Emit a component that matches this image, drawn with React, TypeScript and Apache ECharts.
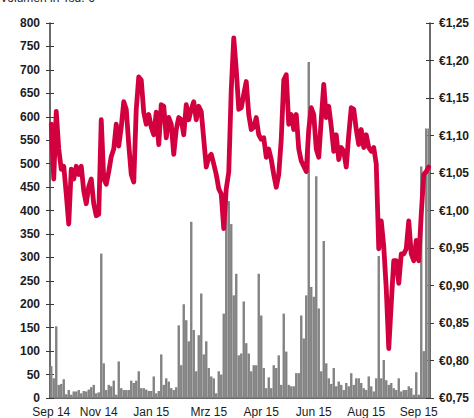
import React, { useEffect, useRef } from "react";
import * as echarts from "echarts";

const volume: number[] = [
  68, 42, 153, 28, 30, 40, 8, 17, 7, 14,
  14, 17, 10, 15, 14, 18, 23, 28, 10, 12,
  308, 74, 17, 28, 25, 37, 7, 78, 21, 17,
  17, 17, 37, 32, 37, 57, 21, 21, 18, 15,
  15, 46, 10, 15, 93, 28, 42, 35, 21, 17,
  23, 155, 70, 200, 166, 121, 376, 145, 57, 134,
  223, 93, 121, 64, 46, 42, 10, 57, 50, 180,
  424, 420, 371, 219, 265, 91, 95, 206, 117, 95,
  57, 70, 70, 265, 176, 64, 21, 44, 21, 70,
  64, 91, 28, 180, 99, 28, 25, 25, 53, 53,
  176, 127, 219, 717, 237, 216, 473, 191, 57, 335,
  74, 42, 30, 64, 25, 35, 28, 17, 32, 25,
  53, 28, 42, 42, 32, 21, 17, 46, 25, 14,
  42, 303, 42, 81, 38, 28, 32, 21, 17, 42,
  14, 17, 17, 25, 21, 7, 55, 7, 494, 100,
  575, 575,
];

const price: number[] = [
  1.115, 1.042, 1.132, 1.082, 1.055, 1.059, 1.022, 0.982, 1.055, 1.042,
  1.059, 1.048, 1.059, 1.026, 1.009, 1.032, 1.042, 1.009, 0.993, 0.995,
  1.121, 1.042, 1.035, 1.052, 1.072, 1.082, 1.115, 1.086, 1.111, 1.145,
  1.135, 1.088, 1.048, 1.038, 1.135, 1.178, 1.174, 1.131, 1.115, 1.128,
  1.111, 1.101, 1.131, 1.088, 1.141, 1.139, 1.097, 1.124, 1.115, 1.075,
  1.108, 1.124, 1.121, 1.101, 1.141, 1.121, 1.135, 1.145, 1.121, 1.139,
  1.132, 1.095, 1.058, 1.071, 1.075, 1.062, 1.048, 1.029, 1.022, 0.976,
  1.029, 1.051, 1.161, 1.230, 1.188, 1.135, 1.137, 1.155, 1.172, 1.128,
  1.108, 1.111, 1.124, 1.101, 1.095, 1.097, 1.071, 1.082, 1.068, 1.048,
  1.031, 1.048, 1.095, 1.174, 1.181, 1.115, 1.128, 1.108, 1.128, 1.082,
  1.066, 1.059, 1.052, 1.108, 1.137, 1.128, 1.082, 1.071, 1.121, 1.168,
  1.124, 1.139, 1.112, 1.079, 1.101, 1.068, 1.084, 1.079, 1.058, 1.101,
  1.137, 1.135, 1.108, 1.088, 1.108, 1.084, 1.101, 1.084, 1.079, 1.084,
  1.062, 0.949, 0.986, 0.952, 0.896, 0.816, 0.876, 0.933, 0.933, 0.903,
  0.942, 0.942, 0.949, 0.986, 0.942, 0.933, 0.960, 0.933, 0.995, 1.048,
  1.052, 1.058,
];

const categories: string[] = volume.map((_, i) => String(i));
const tickIndex: number[] = [0, 19, 40, 63, 84, 105, 126, 147];
const tickLabels: string[] = ["Sep 14", "Nov 14", "Jan 15", "Mrz 15", "Apr 15", "Jun 15", "Aug 15", "Sep 15"];
const leftTicks = { min: 0, max: 800, interval: 50 };
const rightTicks = { min: 0.75, max: 1.25, interval: 0.05 };
const title = "Volumen in Tsd. €";

const FONT = "'Liberation Sans', Arial, sans-serif";
const AXIS_COLOR = "#3a3a3a";

export default function App() {
  const ref = useRef<HTMLDivElement>(null);
  useEffect(() => {
    if (!ref.current) return;
    const chart = echarts.init(ref.current, undefined, { renderer: "svg" });
    const labelStyle = { fontFamily: FONT, fontSize: 12, fontWeight: "bold" as const, color: "#1c1c1c" };
    const innerAxis = (pos: "left" | "right", r: typeof leftTicks) => ({
      type: "value" as const,
      position: pos,
      min: r.min,
      max: r.max,
      interval: r.interval,
      axisLine: { show: false },
      axisTick: { show: true, inside: true, length: 4, lineStyle: { color: AXIS_COLOR, width: 1 } },
      axisLabel: { show: false },
      splitLine: { show: false },
    });
    chart.setOption({
      animation: false,
      grid: { left: 50, right: 44, top: 23, bottom: 18, containLabel: false },
      graphic: [
        { type: "text", left: 0, top: -8, style: { text: title, font: `12px ${FONT}`, fill: "#1c1c1c" } },
      ],
      xAxis: {
        type: "category",
        data: categories,
        boundaryGap: true,
        axisLine: { show: true, lineStyle: { color: AXIS_COLOR, width: 1.5 } },
        axisTick: { show: false },
        axisLabel: {
          interval: (index: number) => tickIndex.includes(index),
          formatter: (_v: string, index: number) => {
            const k = tickIndex.indexOf(index);
            return k >= 0 ? tickLabels[k] : "";
          },
          fontFamily: FONT,
          fontSize: 12,
          color: "#1c1c1c",
          margin: 8,
          hideOverlap: false,
        },
        splitLine: { show: false },
      },
      yAxis: [
        {
          type: "value",
          position: "left",
          min: leftTicks.min,
          max: leftTicks.max,
          interval: leftTicks.interval,
          axisLine: { show: true, lineStyle: { color: AXIS_COLOR, width: 1.5 } },
          axisTick: { show: true, length: 4, lineStyle: { color: AXIS_COLOR, width: 1 } },
          axisLabel: { ...labelStyle, margin: 10 },
          splitLine: { show: false },
        },
        {
          type: "value",
          position: "right",
          min: rightTicks.min,
          max: rightTicks.max,
          interval: rightTicks.interval,
          axisLine: { show: true, lineStyle: { color: AXIS_COLOR, width: 1.5 } },
          axisTick: { show: true, length: 4, lineStyle: { color: AXIS_COLOR, width: 1 } },
          axisLabel: {
            ...labelStyle,
            margin: 9,
            formatter: (v: number) => "€" + v.toFixed(2).replace(".", ","),
          },
          splitLine: { show: false },
        },
        innerAxis("left", leftTicks),
        innerAxis("right", rightTicks),
      ],
      series: [
        {
          type: "bar",
          yAxisIndex: 0,
          data: volume,
          barWidth: 2.4,
          itemStyle: { color: "#838383" },
          z: 2,
        },
        {
          type: "line",
          yAxisIndex: 1,
          data: price,
          symbol: "none",
          lineStyle: { color: "#D3003F", width: 4.8, join: "round", cap: "round" },
          z: 3,
        },
      ],
    });
    return () => chart.dispose();
  }, []);
  return (
    <div
      ref={ref}
      style={{ position: "fixed", left: 0, top: 0, width: 474, height: 418, background: "#fff" }}
    />
  );
}
